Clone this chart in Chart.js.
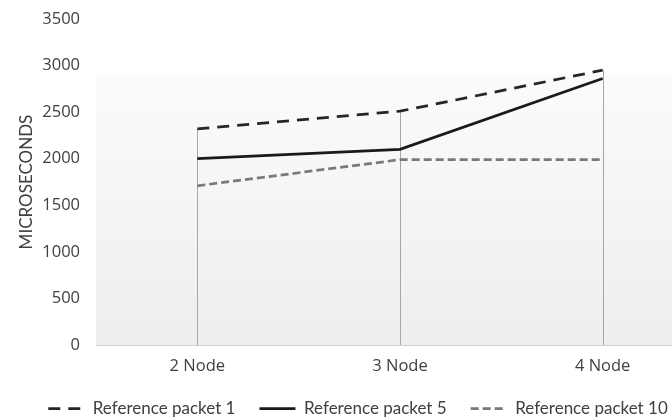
<!DOCTYPE html>
<html>
<head>
<meta charset="utf-8">
<script src="https://cdn.jsdelivr.net/npm/chart.js@4.4.1/dist/chart.umd.min.js"></script>
<style>
  html, body { margin: 0; padding: 0; background: #fff; overflow: hidden; }
  /* the plot runs past the right edge of the window, as in the reference */
  #wrap { position: relative; width: 706px; height: 445px; margin-top: -7px; }
</style>
</head>
<body>
<div id="wrap"><canvas id="chart"></canvas></div>
<script>
const categories = ['2 Node', '3 Node', '4 Node'];
const packet1 = [2320, 2510, 2950];
const packet5 = [2000, 2100, 2860];
const packet10 = [1710, 1990, 1990];
const yTicks = [0, 500, 1000, 1500, 2000, 2500, 3000, 3500];

// light gray gradient behind the plot
const plotBackground = {
  id: 'plotBackground',
  beforeDraw(chart) {
    const { ctx, chartArea, scales } = chart;
    const top = scales.y.getPixelForValue(2900);
    const g = ctx.createLinearGradient(0, top, 0, chartArea.bottom);
    g.addColorStop(0, '#fbfbfb');
    g.addColorStop(1, '#eeeeee');
    ctx.save();
    ctx.fillStyle = g;
    ctx.fillRect(chartArea.left, top, chartArea.right - chartArea.left, chartArea.bottom - top);
    ctx.restore();
  }
};

// vertical drop lines from the highest series down to the axis
const dropLines = {
  id: 'dropLines',
  beforeDatasetsDraw(chart) {
    const { ctx, chartArea, scales } = chart;
    ctx.save();
    ctx.strokeStyle = '#a6a6a6';
    ctx.lineWidth = 1;
    categories.forEach((c, i) => {
      const top = Math.max(...chart.data.datasets.map(d => d.data[i]));
      const x = Math.round(scales.x.getPixelForValue(i)) + 0.5;
      ctx.beginPath();
      ctx.moveTo(x, scales.y.getPixelForValue(top));
      ctx.lineTo(x, chartArea.bottom);
      ctx.stroke();
    });
    ctx.restore();
  }
};

// nudge the legend to where it sits in the reference
const legendShift = {
  id: 'legendShift',
  afterLayout(chart) {
    const l = chart.legend;
    l.left += 6; l.right += 6;
    l.top -= 11; l.bottom -= 11;
  }
};

const ctx = document.getElementById('chart').getContext('2d');
new Chart(ctx, {
  type: 'line',
  data: {
    labels: categories,
    datasets: [
      {
        label: 'Reference packet 1',
        data: packet1,
        borderColor: '#262626',
        backgroundColor: '#262626',
        borderWidth: 2.75,
        borderDash: [12, 8],
        pointRadius: 0,
        tension: 0,
      },
      {
        label: 'Reference packet 5',
        data: packet5,
        borderColor: '#1a1a1a',
        backgroundColor: '#1a1a1a',
        borderWidth: 2.75,
        pointRadius: 0,
        tension: 0,
      },
      {
        label: 'Reference packet 10',
        data: packet10,
        borderColor: '#7a7a7a',
        backgroundColor: '#7a7a7a',
        borderWidth: 2.75,
        borderDash: [8, 4],
        pointRadius: 0,
        tension: 0,
      },
    ],
  },
  options: {
    responsive: true,
    maintainAspectRatio: false,
    animation: false,
    layout: { padding: { top: 0, right: 2, left: 0, bottom: 0 } },
    plugins: {
      legend: {
        position: 'bottom',
        labels: {
          usePointStyle: true,
          pointStyle: 'line',
          pointStyleWidth: 36,
          boxWidth: 36,
          padding: 24,
          color: '#404040',
          font: { family: 'Lato', size: 17 },
          // line samples keep the dash pattern of their series
          generateLabels: chart => chart.data.datasets.map((d, i) => ({
            text: d.label,
            datasetIndex: i,
            pointStyle: 'line',
            strokeStyle: d.borderColor,
            fillStyle: d.borderColor,
            fontColor: '#404040',
            lineWidth: d.borderWidth,
            lineDash: d.borderDash || [],
            hidden: false,
          })),
        },
      },
      tooltip: { enabled: false },
    },
    scales: {
      x: {
        offset: true,
        grid: { display: false, drawTicks: false },
        border: { display: true, color: '#d0d0d0', width: 1 },
        ticks: { padding: 11, color: '#404040', font: { family: 'Open Sans', size: 16.5 } },
      },
      y: {
        min: 0,
        max: 3500,
        afterBuildTicks: s => { s.ticks = yTicks.map(v => ({ value: v })); },
        afterFit: s => { s.width = 96; },
        grid: { display: false, drawTicks: false },
        border: { display: false },
        ticks: {
          padding: 16,
          color: '#404040',
          font: { family: 'Open Sans', size: 16.5 },
          callback: v => String(v),
        },
        title: {
          display: true,
          text: 'MICROSECONDS',
          color: '#404040',
          font: { family: 'Lato', size: 17 },
          padding: { top: 16, bottom: 0 },
        },
      },
    },
  },
  plugins: [plotBackground, dropLines, legendShift],
});
</script>
</body>
</html>
